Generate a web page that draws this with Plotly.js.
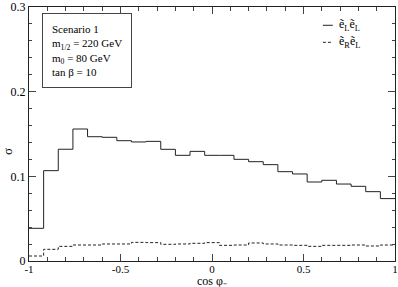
<!DOCTYPE html>
<html>
<head>
<meta charset="utf-8">
<script src="https://cdn.plot.ly/plotly-3.0.1.min.js"></script>
<style>html,body{margin:0;padding:0;background:#fff;}#plot{width:398px;height:287px;}</style>
</head>
<body>
<div id="plot"></div>
<script>
// Bin edges of cos(phi_-) histogram (25 bins)
const binEdges = [-1, -0.92, -0.84, -0.76, -0.68, -0.6, -0.52, -0.44, -0.36, -0.28, -0.2, -0.12, -0.04,
  0.04, 0.12, 0.2, 0.28, 0.36, 0.44, 0.52, 0.6, 0.68, 0.76, 0.84, 0.92, 1];
// sigma per bin, eL eL (solid)
const sigmaLL = [0.0386, 0.1067, 0.1320, 0.1559, 0.1468, 0.1461, 0.1421, 0.1406, 0.1413, 0.1319,
  0.1248, 0.1295, 0.1248, 0.1248, 0.1201, 0.1173, 0.1138, 0.1055, 0.1028, 0.0933,
  0.0953, 0.0909, 0.0882, 0.0819, 0.0737];
// sigma per bin, eR eL (dashed)
const sigmaRL = [0.0059, 0.0138, 0.0173, 0.0189, 0.0189, 0.0201, 0.0201, 0.0220, 0.0217, 0.0197,
  0.0201, 0.0209, 0.0217, 0.0185, 0.0189, 0.0213, 0.0201, 0.0189, 0.0185, 0.0173,
  0.0185, 0.0185, 0.0189, 0.0177, 0.0189];
const xTickVals = [-1, -0.5, 0, 0.5, 1];
const xTickText = ['-1', '-0.5', '0', '0.5', '1'];
const yTickVals = [0, 0.1, 0.2, 0.3];
const yTickText = ['0', '0.1', '0.2', '0.3'];
const seriesNames = ['ẽ<sub>L</sub>ẽ<sub>L</sub>', 'ẽ<sub>R</sub>ẽ<sub>L</sub>'];
const xTitle = 'cos φ₋';
const yTitle = 'σ';
const infoText = 'Scenario 1<br>m<sub>1/2</sub> = 220 GeV<br>m<sub>0</sub> = 80 GeV<br>tan β = 10';

function stepY(v) { return v.concat([v[v.length - 1]]); }

const font = 'Liberation Serif';
const traces = [
  {x: binEdges, y: stepY(sigmaLL), mode: 'lines', line: {shape: 'hv', color: '#222', width: 1},
   name: seriesNames[0], showlegend: false, hoverinfo: 'skip'},
  {x: binEdges, y: stepY(sigmaRL), mode: 'lines', line: {shape: 'hv', color: '#222', width: 1, dash: '3px,2px'},
   name: seriesNames[1], showlegend: false, hoverinfo: 'skip'}
];

const axisCommon = {
  showgrid: false, zeroline: false, showline: true, linecolor: '#222', linewidth: 1,
  mirror: 'allticks', ticks: 'inside', ticklen: 7, tickcolor: '#444', tickwidth: 1,
  ticklabeloverflow: 'allow',
  tickfont: {family: font, size: 12, color: '#000'}
};

const layout = {
  width: 398, height: 287,
  margin: {l: 29, r: 3, t: 7, b: 26},
  paper_bgcolor: '#fff', plot_bgcolor: '#fff',
  font: {family: font, size: 12, color: '#000'},
  xaxis: Object.assign({}, axisCommon, {
    range: [-1, 1], tickmode: 'array', tickvals: xTickVals, ticktext: xTickText,
    tickfont: {family: font, size: 11, color: '#000'}, ticklabelstandoff: -2,
    minor: {dtick: 0.1, ticklen: 4, ticks: 'inside', tickcolor: '#444'}
  }),
  yaxis: Object.assign({}, axisCommon, {
    range: [0, 0.3], tickmode: 'array', tickvals: yTickVals, ticktext: yTickText,
    minor: {dtick: 0.02, ticklen: 3, ticks: 'inside', tickcolor: '#444'}
  }),
  annotations: [
    {xref: 'paper', yref: 'paper', x: 0.0355, y: 0.975, xanchor: 'left', yanchor: 'top',
     text: infoText, showarrow: false, align: 'left', bordercolor: '#444', borderwidth: 1, borderpad: 9,
     font: {family: font, size: 11}},
    {xref: 'paper', yref: 'paper', x: 0.8415, y: 0.928, xanchor: 'left', yanchor: 'middle',
     text: seriesNames[0], showarrow: false, font: {family: font, size: 12}},
    {xref: 'paper', yref: 'paper', x: 0.8415, y: 0.861, xanchor: 'left', yanchor: 'middle',
     text: seriesNames[1], showarrow: false, font: {family: font, size: 12}},
    {xref: 'paper', yref: 'paper', x: 0.5, y: -0.08, xanchor: 'center', yanchor: 'middle',
     text: xTitle, showarrow: false, font: {family: font, size: 12}},
    {xref: 'paper', yref: 'paper', x: -0.058, y: 0.432, xanchor: 'center', yanchor: 'middle',
     text: yTitle, showarrow: false, textangle: -90, font: {family: font, size: 13}}
  ],
  shapes: [
    {type: 'line', xref: 'paper', yref: 'paper', x0: 0.803, x1: 0.830, y0: 0.928, y1: 0.928,
     line: {color: '#222', width: 1}},
    {type: 'line', xref: 'paper', yref: 'paper', x0: 0.803, x1: 0.830, y0: 0.861, y1: 0.861,
     line: {color: '#222', width: 1, dash: '3px,2px'}}
  ]
};

Plotly.newPlot('plot', traces, layout, {staticPlot: true, displayModeBar: false});
</script>
</body>
</html>
